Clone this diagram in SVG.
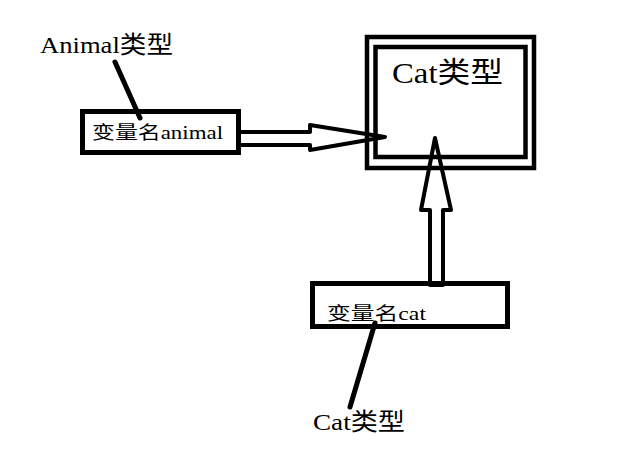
<svg xmlns="http://www.w3.org/2000/svg" width="624" height="469" viewBox="0 0 624 469">
<style>
.box{fill:#fff;stroke:#000;stroke-width:5}
.frame{fill:none;stroke:#000;stroke-width:4.5}
.lbl{font-family:"Liberation Serif","Noto Sans CJK SC",serif;fill:#000}
.arrow{fill:none;stroke:#000;stroke-width:4;stroke-linejoin:round}
.lead{stroke:#000;stroke-width:5;stroke-linecap:round}
</style>
<rect width="624" height="469" fill="#fff"/>
<g id="cat-type">
<rect class="frame" x="367" y="37" width="167" height="131"/>
<rect class="frame" x="375.5" y="47" width="150" height="110"/>
<text class="lbl" x="392" y="83" font-size="29" textLength="111" lengthAdjust="spacingAndGlyphs">Cat类型</text>
</g>
<g id="var-animal">
<rect class="box" x="82.5" y="111.5" width="156" height="41"/>
<text class="lbl" x="92" y="139" font-size="18" textLength="131" lengthAdjust="spacingAndGlyphs">变量名animal</text>
</g>
<g id="var-cat">
<rect class="box" x="312.5" y="283.5" width="195" height="43"/>
<text class="lbl" x="327" y="320" font-size="18" textLength="99" lengthAdjust="spacingAndGlyphs">变量名cat</text>
</g>
<g id="label-animal">
<text class="lbl" x="40" y="53" font-size="24" textLength="133" lengthAdjust="spacingAndGlyphs">Animal类型</text>
</g>
<g id="label-cat">
<text class="lbl" x="313" y="430" font-size="24" textLength="92" lengthAdjust="spacingAndGlyphs">Cat类型</text>
</g>
<g id="connectors">
<polygon class="arrow" points="238,132 310,132 310,125 385,137 310,150 310,145 238,145"/>
<polygon class="arrow" points="430,285 430,210 421,210 435,138 451,210 443,210 443,285"/>
<line class="lead" x1="115" y1="62" x2="140" y2="118"/>
<line class="lead" x1="375" y1="323" x2="350" y2="407"/>
</g>
</svg>
